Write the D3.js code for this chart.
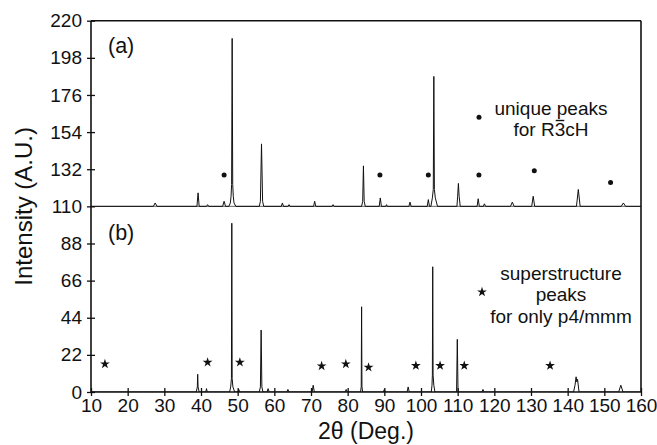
<!DOCTYPE html>
<html><head><meta charset="utf-8">
<script src="https://cdn.jsdelivr.net/npm/d3@7"></script>
<style>body{margin:0;background:#fff} text{font-family:"Liberation Sans",Arial,sans-serif;fill:#111}</style>
</head><body><svg id="c" width="657" height="445"></svg>
<script>
// ---- data ----
const patternA = [
 [10,110],[27.0,110],[27.5,112],[28.0,110],
 [38.9,110],[39.2,118],[39.5,110],
 [41.5,110],[41.8,111],[42.1,110],
 [45.9,110],[46.3,113],[46.7,110],
 [47.6,110],[48.0,112],[48.2,116],[48.35,123],[48.5,209.5],[48.65,123],[48.8,116],[49.0,112],[49.5,110],
 [55.9,110],[56.2,113],[56.5,147],[56.8,113],[57.1,110],
 [61.9,110],[62.2,112],[62.5,110],
 [63.7,110],[64.0,111],[64.3,110],
 [70.7,110],[71.0,113],[71.3,110],
 [75.7,110],[76.0,111],[76.3,110],
 [83.8,110],[84.1,113],[84.3,134],[84.5,113],[84.8,110],
 [88.6,110],[88.9,115],[89.2,110],[90.4,110],[90.6,111],[90.8,110],
 [96.7,110],[97.0,112.5],[97.3,110],
 [101.7,110],[102.0,114],[102.3,110],
 [102.7,110],[103.1,115],[103.35,120],[103.5,187],[103.65,120],[103.9,115],[104.5,110],
 [109.8,110],[110.0,116],[110.2,123.6],[110.4,116],[110.7,110],
 [115.3,110],[115.6,114.5],[115.9,110],[117.0,110],[117.3,111.5],[117.6,110],
 [124.4,110],[124.9,112.5],[125.4,110],
 [130.2,110],[130.6,116],[131.0,110],
 [142.4,110],[142.9,120],[143.4,110],
 [154.6,110],[155.2,112],[155.8,110],
 [160,110]
];
const patternB = [
 [10,0],[38.7,0],[39.0,3],[39.1,10.5],[39.2,3],[39.5,0],
 [41.3,0],[41.5,2],[41.7,0],
 [47.8,0],[48.1,3],[48.3,8],[48.4,100],[48.5,8],[48.7,3],[49.2,0],
 [50.0,0],[50.3,1.5],[50.6,0],
 [55.9,0],[56.2,3],[56.4,36.7],[56.6,3],[56.9,0],
 [58.0,0],[58.3,2],[58.6,0],
 [63.4,0],[63.7,1.5],[64.0,0],
 [70.3,0],[70.6,4],[70.9,0],
 [79.3,0],[79.6,1.5],[79.9,0],
 [83.5,0],[83.7,3],[83.8,50.5],[83.9,3],[84.1,0],
 [89.7,0],[90.0,1.5],[90.3,0],
 [96.2,0],[96.5,3],[96.8,0],
 [102.8,0],[103.0,4],[103.1,10],[103.2,74.2],[103.3,10],[103.5,4],[103.8,0],
 [109.7,0],[109.9,31.2],[110.1,0],
 [116.6,0],[116.9,1.5],[117.2,0],
 [141.6,0],[142.0,4],[142.3,9],[142.5,6],[142.7,7.5],[143.1,0],
 [153.9,0],[154.5,4],[155.1,0],
 [160,0]
];
const dotsA = [[46.3,128.6],[88.8,128.6],[102.0,128.6],[115.8,128.6],[130.9,131.1],[151.7,124.2]];
const starsB = [[13.8,16.6],[41.8,17.6],[50.6,17.6],[72.9,15.4],[79.5,16.6],[85.7,14.6],[98.6,15.6],[105.2,15.6],[111.8,15.6],[135.2,15.6]];
const xTickValues = [10,20,30,40,50,60,70,80,90,100,110,120,130,140,150,160];
const yTickValues = [0,22,44,66,88,110,132,154,176,198,220];
const panelLabels = ["(a)","(b)"];
const legendA = ["unique peaks","for R3cH"];
const overlineChar = 5; // the "3" in "for R3cH" carries a bar
const legendB = ["superstructure","peaks","for only p4/mmm"];
const xTitle = "2\u03B8 (Deg.)";
const yTitle = "Intensity (A.U.)";

// ---- drawing ----
const W=657,H=445, m={l:91,r:16,t:20.7,b:53};
const svg = d3.select("#c");
svg.append("rect").attr("width",W).attr("height",H).attr("fill","#fff");
const x = d3.scaleLinear().domain([10,160]).range([m.l, W-m.r]);
const y = d3.scaleLinear().domain([0,220]).range([H-m.b, m.t]);

svg.append("defs").append("clipPath").attr("id","clip")
  .append("rect").attr("x",m.l).attr("y",m.t).attr("width",W-m.l-m.r).attr("height",H-m.t-m.b);

// separator at 110
svg.append("line").attr("x1",x(10)).attr("x2",x(160)).attr("y1",y(110)).attr("y2",y(110))
  .attr("stroke","#666").attr("stroke-width",1);

const line = d3.line().x(d=>x(d[0])).y(d=>y(d[1]));
const g = svg.append("g").attr("clip-path","url(#clip)");
g.append("path").datum(patternA).attr("d",line).attr("fill","none").attr("stroke","#111").attr("stroke-width",1);
g.append("path").datum(patternB).attr("d",line).attr("fill","none").attr("stroke","#111").attr("stroke-width",1);

// markers
svg.selectAll(".dot").data(dotsA).enter().append("circle")
  .attr("cx",d=>x(d[0])).attr("cy",d=>y(d[1])).attr("r",2.5).attr("fill","#111");
const star = d3.symbol().type(d3.symbolStar).size(30);
svg.selectAll(".star").data(starsB).enter().append("path").attr("d",star)
  .attr("transform",d=>`translate(${x(d[0])},${y(d[1])})`).attr("fill","#111");

// axes
const xa = svg.append("g").attr("transform",`translate(0,${y(0)})`)
  .call(d3.axisBottom(x).tickValues(xTickValues).tickSize(4).tickSizeOuter(0).tickPadding(3));
xa.select(".domain").remove();
xa.selectAll(".tick line").attr("y1",-4).attr("y2",4).attr("stroke","#111").attr("stroke-width",1.3);
xa.selectAll("text").attr("font-size",19).attr("fill","#111");

const ya = svg.append("g").attr("transform",`translate(${x(10)},0)`)
  .call(d3.axisLeft(y).tickValues(yTickValues).tickSize(4).tickSizeOuter(0).tickPadding(5));
ya.select(".domain").remove();
ya.selectAll(".tick line").attr("x1",4).attr("x2",-4).attr("stroke","#111").attr("stroke-width",1.3);
ya.selectAll("text").attr("font-size",19).attr("fill","#111");

// frame
const fr = svg.append("g").attr("stroke","#111").attr("stroke-width",1.6).attr("fill","none");
fr.append("line").attr("x1",x(10)).attr("x2",x(160)).attr("y1",y(0)).attr("y2",y(0));
fr.append("line").attr("x1",x(10)).attr("x2",x(160)).attr("y1",y(220)).attr("y2",y(220));
fr.append("line").attr("x1",x(10)).attr("x2",x(10)).attr("y1",y(0)).attr("y2",y(220));
fr.append("line").attr("x1",x(160)).attr("x2",x(160)).attr("y1",y(0)).attr("y2",y(220));

// titles
svg.append("text").attr("x",(x(10)+x(160))/2).attr("y",439).attr("text-anchor","middle")
  .attr("font-size",23).text(xTitle);
svg.append("text").attr("transform",`translate(32,${y(110)}) rotate(-90)`).attr("text-anchor","middle")
  .attr("font-size",24).text(yTitle);

// panel labels
svg.append("text").attr("x",108).attr("y",52.5).attr("font-size",21.5).text(panelLabels[0]);
svg.append("text").attr("x",108).attr("y",240).attr("font-size",21.5).text(panelLabels[1]);

// legend (a)
const FS = 19;
svg.append("text").attr("x",551).attr("y",115).attr("text-anchor","middle").attr("font-size",FS).text(legendA[0]);
const t2 = svg.append("text").attr("x",551).attr("y",136).attr("text-anchor","middle").attr("font-size",FS).text(legendA[1]);
let total = 0, pre = 0, cw = 0;
try {
  const n = t2.node();
  total = n.getComputedTextLength();
  pre = n.getSubStringLength(0, overlineChar);
  cw = n.getSubStringLength(overlineChar, 1);
} catch(e) {}
if (!(cw > 3)) { total = 3.945*FS; pre = 2.167*FS; cw = 0.556*FS; }
const ox = 551 - total/2 + pre;
svg.append("rect").attr("x",ox+1).attr("y",136-16.2).attr("width",cw-2).attr("height",1.4).attr("fill","#111");
svg.append("circle").attr("cx",479).attr("cy",117.3).attr("r",2.5).attr("fill","#111");

// legend (b)
legendB.forEach((s,i)=>{
  svg.append("text").attr("x",561).attr("y",279.5+i*21.6).attr("text-anchor","middle").attr("font-size",FS).text(s);
});
svg.append("path").attr("d",star).attr("transform","translate(482,292)").attr("fill","#111");
</script></body></html>
